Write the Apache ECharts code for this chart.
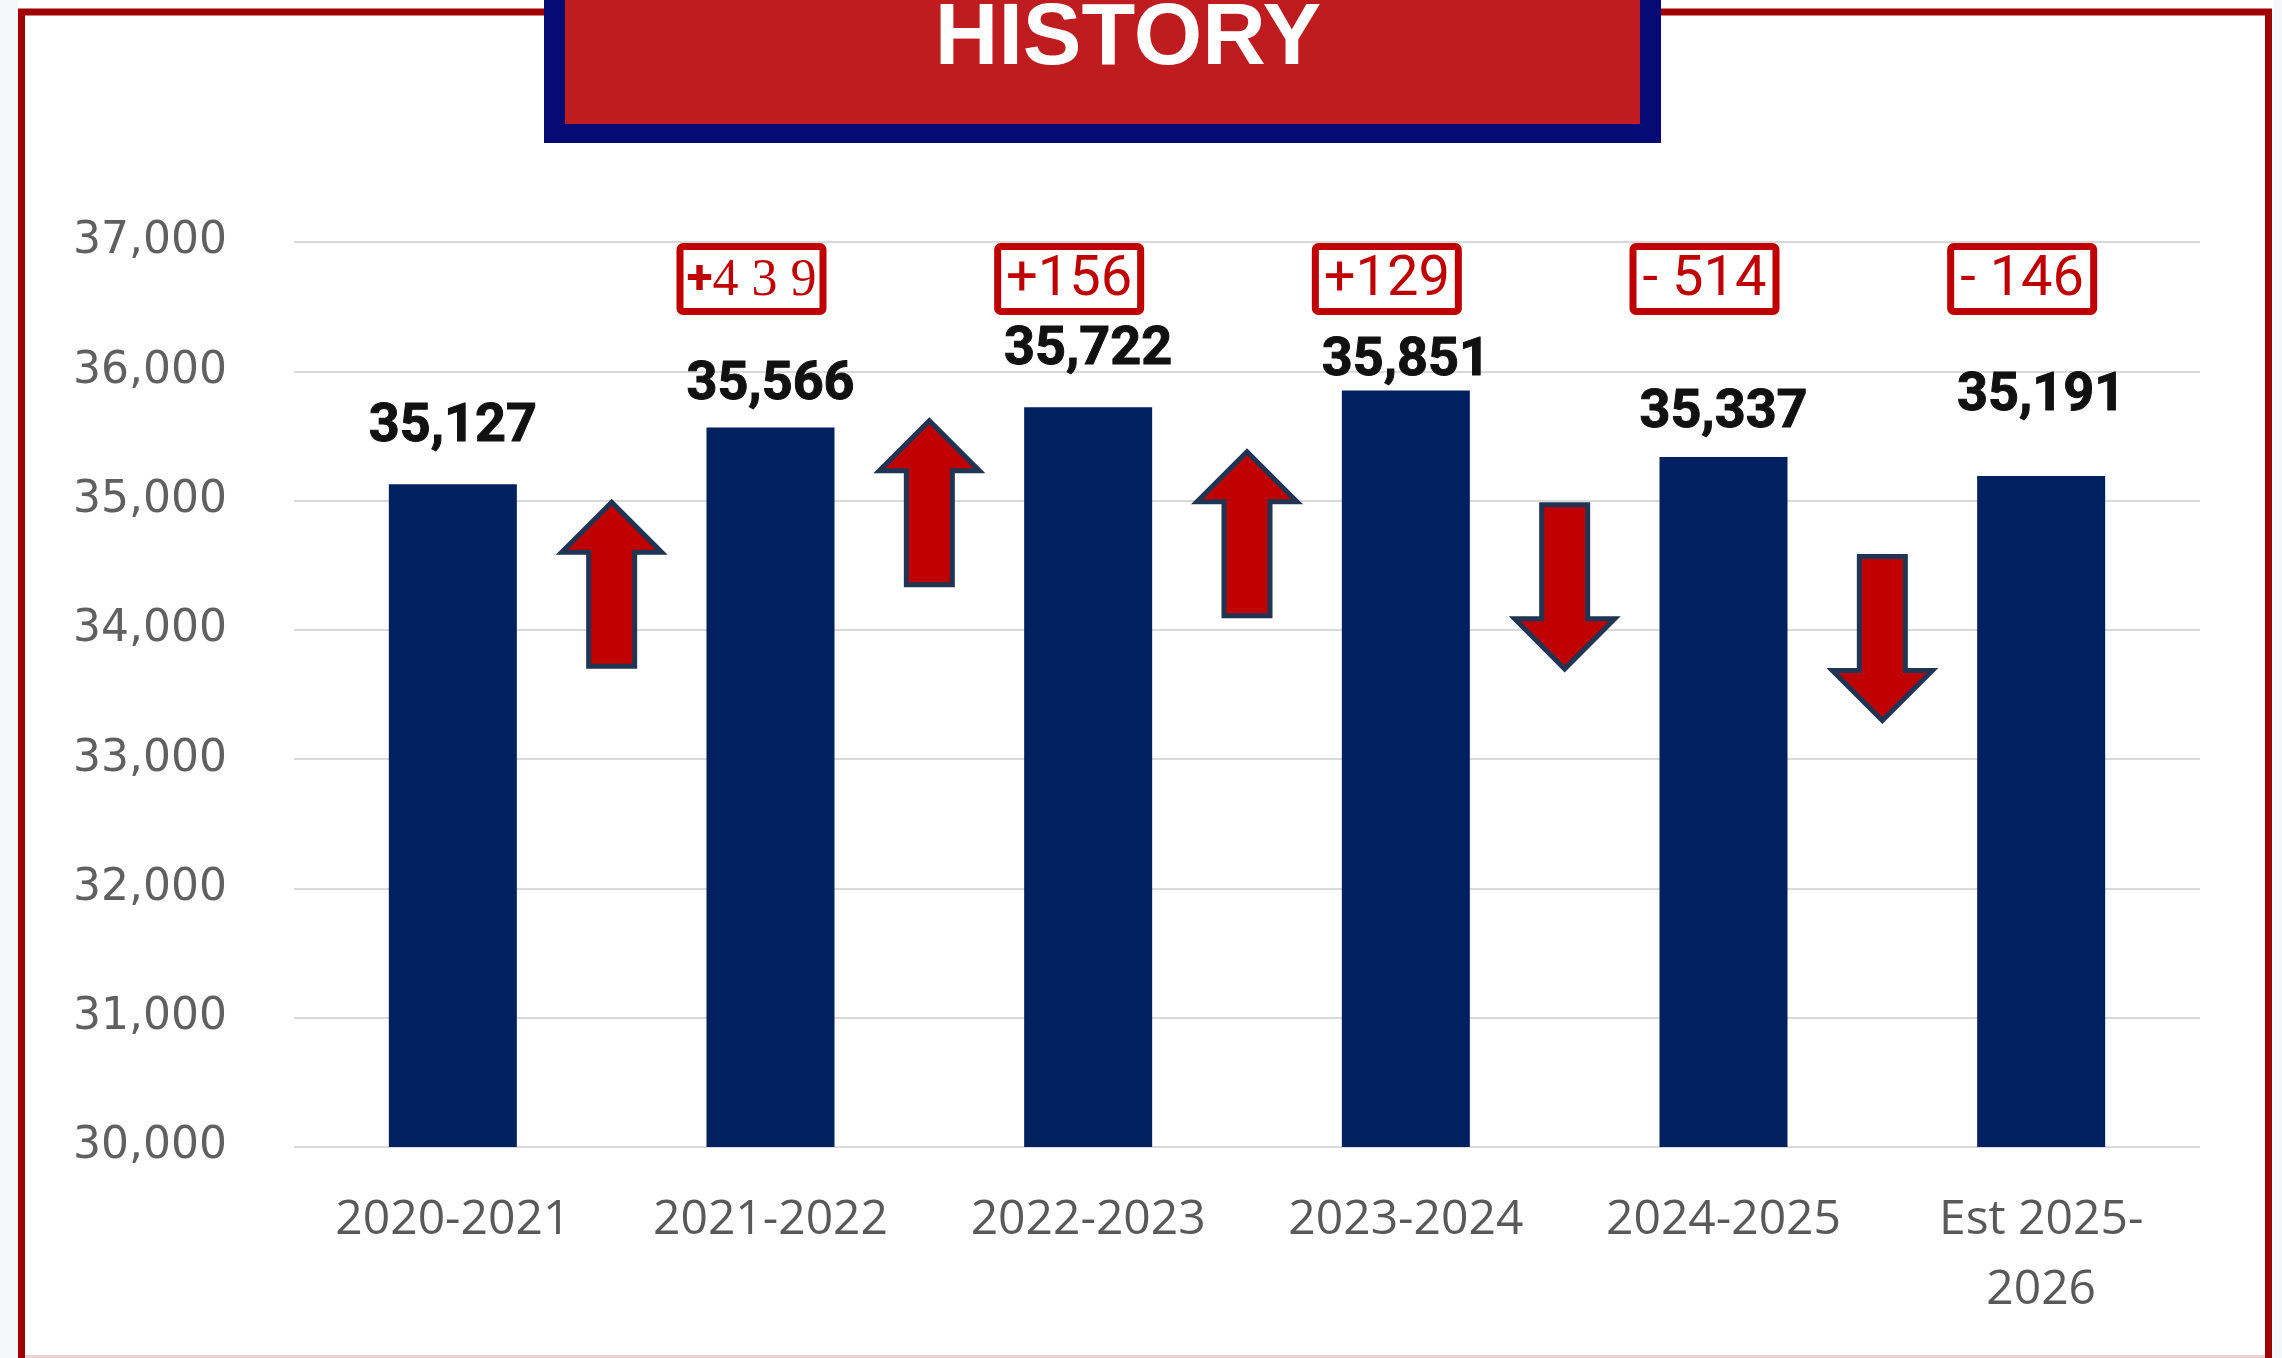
<!DOCTYPE html>
<html>
<head>
<meta charset="utf-8">
<script src="https://cdn.jsdelivr.net/npm/echarts@6/dist/echarts.min.js"></script>
<style>
  html, body { margin: 0; padding: 0; background: #fff; }
  #chart { width: 2282px; height: 1358px; }
</style>
</head>
<body>
<div id="chart"></div>
<script>
// enrollment per school year
const years = ['2020-2021', '2021-2022', '2022-2023', '2023-2024', '2024-2025', 'Est 2025-\n2026'];
const enrollment = [35127, 35566, 35722, 35851, 35337, 35191];
// year-over-year change, as printed in the red boxes
const changeLabels = ['+439', '+156', '+129', '- 514', '- 146'];
// where each arrow tip starts, in enrollment units (arrows sit between bars)
const arrowTops = [35010, 35640, 35400, 34990, 34590];
const yTicks = [30000, 31000, 32000, 33000, 34000, 35000, 36000, 37000];

// hand-placed label heights from the source (px from bar top to label middle)
const labelRaise = [59, 44, 59, 31, 46, 81];

const NAVY = '#012060';
const RED = '#c00000';
const yMin = yTicks[0];
const yMax = yTicks[yTicks.length - 1];

const chart = echarts.init(document.getElementById('chart'));

function fmt(n) {
  return Number(n).toLocaleString('en-US');
}

function renderArrow(params, api) {
  const i = api.value(0);
  const top = api.value(1);
  const a = api.coord([i, top]);
  const b = api.coord([i + 1, top]);
  const x = (a[0] + b[0]) / 2;
  const y = a[1] + 3;
  const len = 164, head = 50, hw = 50, sw = 23;
  const up = enrollment[i + 1] > enrollment[i];
  let pts;
  if (up) {
    pts = [[x, y], [x + hw, y + head], [x + sw, y + head], [x + sw, y + len],
           [x - sw, y + len], [x - sw, y + head], [x - hw, y + head]];
  } else {
    const hb = y + len - head;
    pts = [[x - sw, y], [x + sw, y], [x + sw, hb], [x + hw, hb],
           [x, y + len], [x - hw, hb], [x - sw, hb]];
  }
  return {
    type: 'polygon',
    shape: { points: pts },
    style: { fill: RED, stroke: '#1f3553', lineWidth: 5, lineJoin: 'miter' }
  };
}

function renderBox(params, api) {
  const idx = params.dataIndex;
  const p = api.coord([api.value(0), api.value(1)]);
  const cx = p[0] - 19;
  const cy = p[1] + 37;
  const w = 143, h = 65;
  const txt = changeLabels[idx];
  // the first box was typed in a serif face in the source
  const textStyle = idx === 0
    ? {
        text: '{p|+}{d|4 3 9}',
        rich: {
          p: { fontFamily: 'Roboto', fontWeight: 'bold', fontSize: 48, fill: RED },
          d: { fontFamily: 'Liberation Serif', fontSize: 52, fill: RED }
        }
      }
    : { text: txt, fontFamily: 'Roboto, sans-serif', fontSize: 56, fill: RED };
  return {
    type: 'group',
    children: [
      {
        type: 'rect',
        shape: { x: cx - w / 2, y: cy - h / 2, width: w, height: h, r: 3 },
        style: { fill: '#fff', stroke: RED, lineWidth: 7 }
      },
      {
        type: 'text',
        x: cx,
        y: cy + 2,
        style: Object.assign({ align: 'center', verticalAlign: 'middle' }, textStyle)
      }
    ]
  };
}

const barData = enrollment.map((v, i) => ({
  value: v,
  label: { distance: labelRaise[i] - 29 }
}));

chart.setOption({
  backgroundColor: '#ffffff',
  animation: false,
  grid: { left: 294, right: 82, top: 242, bottom: 211, containLabel: false, outerBoundsMode: 'none' },
  xAxis: {
    type: 'category',
    data: years,
    axisLine: { show: false },
    axisTick: { show: false },
    axisLabel: {
      margin: 38,
      fontFamily: '"Open Sans", sans-serif',
      fontSize: 48,
      lineHeight: 70,
      color: '#595959'
    }
  },
  yAxis: {
    type: 'value',
    min: yMin,
    max: yMax,
    interval: 1000,
    axisLine: { show: false },
    axisTick: { show: false },
    axisLabel: {
      margin: 67,
      padding: [8, 0, 0, 0],
      fontFamily: '"DejaVu Sans", sans-serif',
      fontSize: 44,
      color: '#606060',
      formatter: v => fmt(v)
    },
    splitLine: { lineStyle: { color: '#d9d9d9', width: 2 } }
  },
  series: [
    {
      type: 'bar',
      data: barData,
      barWidth: 128,
      itemStyle: { color: NAVY },
      label: {
        show: true,
        position: 'top',
        formatter: p => fmt(p.value),
        fontFamily: 'Roboto, sans-serif',
        fontWeight: 'bold',
        fontSize: 54,
        color: '#111',
        textBorderColor: '#111',
        textBorderWidth: 1
      }
    },
    {
      type: 'custom',
      renderItem: renderArrow,
      data: arrowTops.map((v, i) => [i, v]),
      encode: { x: 0, y: 1 },
      z: 3
    },
    {
      type: 'custom',
      renderItem: renderBox,
      data: changeLabels.map((t, i) => [i + 1, yMax]),
      encode: { x: 0, y: 1 },
      z: 4
    }
  ],
  graphic: [
    { type: 'rect', shape: { x: 0, y: 0, width: 18, height: 1358 }, style: { fill: '#f5f7fa' }, silent: true },
    { type: 'rect', shape: { x: 2273, y: 0, width: 9, height: 1358 }, style: { fill: '#f5f7fa' }, silent: true },
    { type: 'rect', shape: { x: 21.5, y: 12, width: 2247, height: 1420 }, style: { fill: 'none', stroke: '#a00000', lineWidth: 7 }, silent: true },
    { type: 'rect', shape: { x: 25, y: 1355, width: 2240, height: 3 }, style: { fill: '#ecd2d2' }, silent: true },
    { type: 'rect', shape: { x: 544, y: -30, width: 1117, height: 173 }, style: { fill: '#050a75' }, silent: true, z: 10 },
    { type: 'rect', shape: { x: 565, y: -30, width: 1075, height: 154 }, style: { fill: '#bf1c20' }, silent: true, z: 11 },
    {
      type: 'text', x: 1128, y: 40, z: 12, silent: true,
      style: {
        text: 'HISTORY', align: 'center', verticalAlign: 'middle',
        fontFamily: '"Liberation Sans", Arial, sans-serif', fontWeight: 'bold', fontSize: 88, fill: '#fff'
      }
    }
  ]
});
</script>
</body>
</html>
